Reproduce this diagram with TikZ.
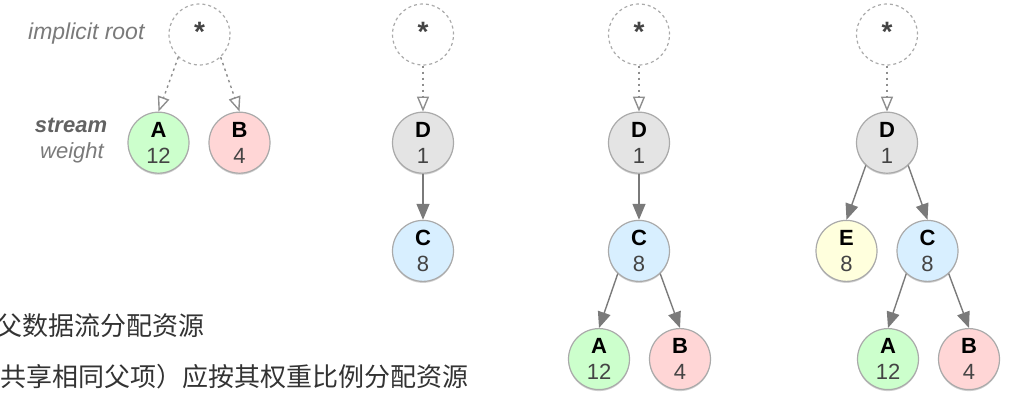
\documentclass[tikz,border=0pt]{standalone}
\usepackage{fontspec}
\setmainfont{Liberation Sans}
\newfontfamily\cjk{Noto Sans CJK SC}
\usetikzlibrary{positioning}
\usetikzlibrary{arrows.meta}
\usetikzlibrary{shadows}
\definecolor{ringgray}{HTML}{AAAAAA}
\definecolor{arrowgray}{HTML}{7A7A7A}
\definecolor{numgray}{HTML}{444444}
\definecolor{labelgray}{HTML}{7A7A7A}
\definecolor{textdark}{HTML}{333333}
\definecolor{fillgreen}{HTML}{CCFFCC}
\definecolor{fillred}{HTML}{FFD6D6}
\definecolor{fillgray}{HTML}{E4E4E4}
\definecolor{fillblue}{HTML}{D8EFFF}
\definecolor{fillyellow}{HTML}{FFFFDD}
\tikzset{weighted/.style={circle,draw=ringgray,line width=1.2pt,minimum size=61pt,inner sep=0pt,align=center,font=\fontsize{22}{26}\selectfont,drop shadow={shadow xshift=0pt,shadow yshift=-1.5pt,opacity=0.3,fill=black!60}}}
\tikzset{rootnode/.style={circle,draw=ringgray,line width=1.2pt,dash pattern=on 3pt off 3pt,minimum size=61pt,inner sep=0pt,text=numgray,font=\bfseries\fontsize{28}{28}\selectfont}}
\tikzset{dep/.style={draw=arrowgray,line width=1.4pt,-{Triangle[length=16pt,width=13pt]}}}
\tikzset{implied/.style={draw=arrowgray!85,line width=1.4pt,dash pattern=on 2.5pt off 3.5pt,-{Triangle[open,length=15pt,width=12pt]}}}

\begin{document}
\begin{tikzpicture}[x=1pt,y=-1pt,node distance=46pt]
            \useasboundingbox (0,0) rectangle (1010,403);
            % labels
            \node [anchor=base east,text=labelgray,font=\itshape\fontsize{23}{23}\selectfont] (impl) at (148,40) {implicit root};
            \node [anchor=base,text=labelgray!80!black,font=\bfseries\itshape\fontsize{22}{22}\selectfont] (strm) at (71,133) {stream};
            \node [anchor=base,text=labelgray,font=\itshape\fontsize{22}{22}\selectfont] (wgt) at (72,159) {weight};
            \node [anchor=base east,text=textdark,font=\cjk\fontsize{26}{26}\selectfont] (noteone) at (208,336) {父数据流分配资源};
            \node [anchor=base east,text=textdark,font=\cjk\fontsize{26}{26}\selectfont] (notetwo) at (472,387) {共享相同父项）应按其权重比例分配资源};
            % first tree
            \node [rootnode] (rooti) at (199.5,34.5) {\raisebox{5pt}{*}};
            \node [weighted,fill=fillgreen,below=of rooti,xshift=-41pt] (ai) {\textbf{A}\\\textcolor{numgray}{12}};
            \node [weighted,fill=fillred,below=of rooti,xshift=40pt] (bi) {\textbf{B}\\\textcolor{numgray}{4}};
            \draw[implied] (rooti.-133) -- (ai.north);
            \draw[implied] (rooti.-47) -- (bi.north);
            % second tree
            \node [rootnode] (rootii) at (423,34.5) {\raisebox{5pt}{*}};
            \node [weighted,fill=fillgray,below=of rootii] (dii) {\textbf{D}\\\textcolor{numgray}{1}};
            \node [weighted,fill=fillblue,below=of dii] (cii) {\textbf{C}\\\textcolor{numgray}{8}};
            \draw[implied] (rootii) -- (dii);
            \draw[dep] (dii) -- (cii);
            % third tree
            \node [rootnode] (rootiii) at (639,34.5) {\raisebox{5pt}{*}};
            \node [weighted,fill=fillgray,below=of rootiii] (diii) {\textbf{D}\\\textcolor{numgray}{1}};
            \node [weighted,fill=fillblue,below=of diii] (ciii) {\textbf{C}\\\textcolor{numgray}{8}};
            \node [weighted,fill=fillgreen,below=of ciii,xshift=-40pt] (aiii) {\textbf{A}\\\textcolor{numgray}{12}};
            \node [weighted,fill=fillred,below=of ciii,xshift=41pt] (biii) {\textbf{B}\\\textcolor{numgray}{4}};
            \draw[implied] (rootiii) -- (diii);
            \draw[dep] (diii) -- (ciii);
            \draw[dep] (ciii.-133) -- (aiii.north);
            \draw[dep] (ciii.-47) -- (biii.north);
            % fourth tree
            \node [rootnode] (rootiv) at (887,34.5) {\raisebox{5pt}{*}};
            \node [weighted,fill=fillgray,below=of rootiv] (div) {\textbf{D}\\\textcolor{numgray}{1}};
            \node [weighted,fill=fillyellow,below=of div,xshift=-40.5pt] (eiv) {\textbf{E}\\\textcolor{numgray}{8}};
            \node [weighted,fill=fillblue,below=of div,xshift=40.5pt] (civ) {\textbf{C}\\\textcolor{numgray}{8}};
            \node [weighted,fill=fillgreen,below=of civ,xshift=-39.5pt] (aiv) {\textbf{A}\\\textcolor{numgray}{12}};
            \node [weighted,fill=fillred,below=of civ,xshift=41.5pt] (biv) {\textbf{B}\\\textcolor{numgray}{4}};
            \draw[implied] (rootiv) -- (div);
            \draw[dep] (div.-133) -- (eiv.north);
            \draw[dep] (div.-47) -- (civ.north);
            \draw[dep] (civ.-133) -- (aiv.north);
            \draw[dep] (civ.-47) -- (biv.north);
        \end{tikzpicture}
\end{document}
